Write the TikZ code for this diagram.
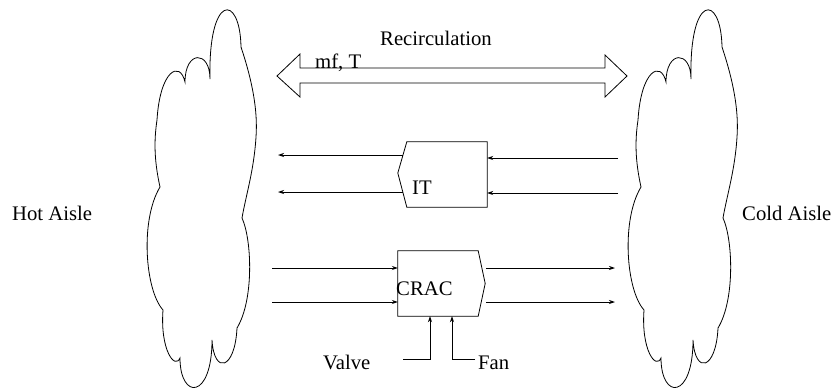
\documentclass[tikz,border=0pt]{standalone}
\usepackage{fontspec}
\setmainfont{Liberation Serif}
\usetikzlibrary{arrows.meta}
\tikzset{
  lbl/.style={font=\fontsize{20.7pt}{24pt}\selectfont, inner sep=0pt, anchor=base west},
  box/.style={minimum width=80pt, minimum height=65pt, inner sep=0pt},
  flow/.style={line width=0.8pt, -{Stealth[length=6pt,width=4pt]}},
  aisle/.pic={
    \draw[line width=0.8pt] (210,79) .. controls (208,-7) and (240,-7) .. (241,47)
      .. controls (252,80) and (258,110) .. (256,137)
      .. controls (254,170) and (246,195) .. (242,218)
      .. controls (252,240) and (254,300) .. (237,328)
      .. controls (235,370) and (214,375) .. (212,340)
      .. controls (212,400) and (180,400) .. (180,358)
      .. controls (175,370) and (160,350) .. (163,310)
      .. controls (145,290) and (140,220) .. (160,187)
      .. controls (154,160) and (154,140) .. (157,120)
      .. controls (160,70) and (180,60) .. (185,82)
      .. controls (185,50) and (210,50) .. (210,79) -- cycle;
  },
}
\begin{document}
\begin{tikzpicture}[x=1pt, y=-1pt]
  \useasboundingbox (0,0) rectangle (834,391);
  % aisles
  \pic (hot) at (0,0) {aisle};
  \pic (cold) at (481,0) {aisle};
  \node[lbl] (hotlbl) at (12,220) {Hot Aisle};
  \node[lbl] (coldlbl) at (742,220) {Cold Aisle};

  % recirculation
  \draw[line width=0.8pt] (277,76) -- (300,54) -- (300,68) -- (605,68) -- (605,55) -- (627,76)
    -- (605,97) -- (605,83) -- (300,83) -- (300,97) -- cycle;
  \node[lbl] (recirc) at (380,45) {Recirculation};
  \node[lbl] (mft) at (315,68) {mf, T};

  % IT
  \node[box] (it) at (447,174.5) {};
  \draw[line width=0.8pt] (it.north west) -- (it.north east) -- (it.south east) -- (it.south west)
    -- ([xshift=-9pt,yshift=1.5pt]it.west) -- cycle;
  \node[lbl] (itlbl) at (412,194) {IT};
  \coordinate (itout1) at (278,155);
  \coordinate (itout2) at (278,192);
  \coordinate (itin1) at (618,158);
  \coordinate (itin2) at (618,193);
  \draw[flow] (it.west |- itout1) ++(-4,0) -- (itout1);
  \draw[flow] (it.west |- itout2) ++(-4,0) -- (itout2);
  \draw[flow] (itin1) -- (it.east |- itin1);
  \draw[flow] (itin2) -- (it.east |- itin2);

  % CRAC
  \node[box] (crac) at (438,283.5) {};
  \draw[line width=0.8pt] (crac.north west) -- (crac.north east) -- ([xshift=7pt]crac.east)
    -- (crac.south east) -- (crac.south west) -- cycle;
  \node[lbl] (craclbl) at (396,295) {CRAC};
  \coordinate (cracin1) at (272,268);
  \coordinate (cracin2) at (272,302);
  \coordinate (cracout1) at (615,268);
  \coordinate (cracout2) at (615,302);
  \draw[flow] (cracin1) -- (crac.west |- cracin1);
  \draw[flow] (cracin2) -- (crac.west |- cracin2);
  \draw[flow] (486,268) -- (cracout1);
  \draw[flow] (486,302) -- (cracout2);

  % valve and fan
  \node[lbl] (valve) at (323,369) {Valve};
  \node[lbl] (fan) at (478,369) {Fan};
  \coordinate (valvein) at (403,359);
  \coordinate (fanin) at (475,359);
  \draw[flow] (valvein) -| (crac.south west -| 430,0);
  \draw[flow] (fanin) -| (crac.south west -| 452,0);
\end{tikzpicture}
\end{document}
